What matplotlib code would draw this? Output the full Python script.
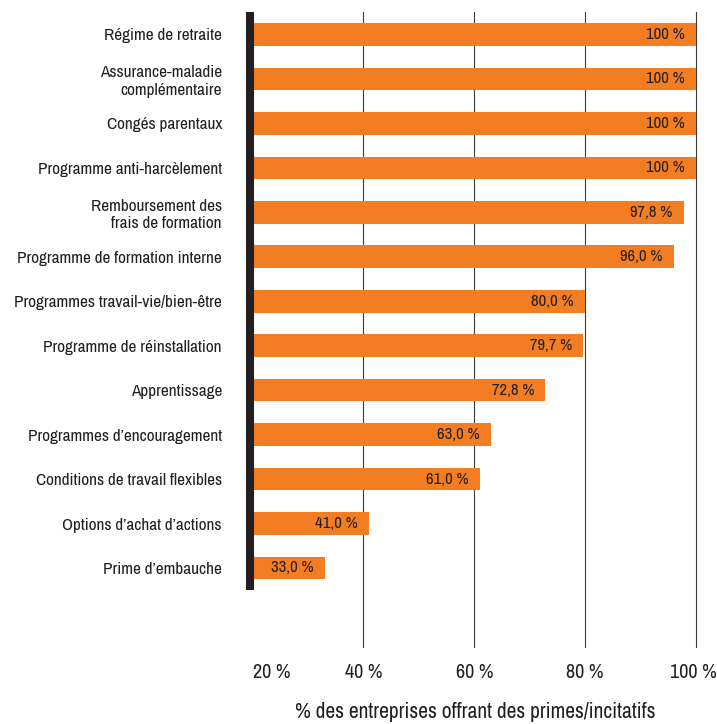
import matplotlib
matplotlib.use("Agg")
import matplotlib.pyplot as plt
import matplotlib.transforms as mtransforms

plt.rcParams['font.family'] = ['Archivo Narrow', 'DejaVu Sans']

categories = [
    "Régime de retraite",
    "Assurance-maladie\ncomplémentaire",
    "Congés parentaux",
    "Programme anti-harcèlement",
    "Remboursement des\nfrais de formation",
    "Programme de formation interne",
    "Programmes travail-vie/bien-être",
    "Programme de réinstallation",
    "Apprentissage",
    "Programmes d’encouragement",
    "Conditions de travail flexibles",
    "Options d’achat d’actions",
    "Prime d’embauche",
]
values = [100, 100, 100, 100, 97.8, 96.0, 80.0, 79.7, 72.8, 63.0, 61.0, 41.0, 33.0]
x_ticks = [20, 40, 60, 80, 100]
x_label = "% des entreprises offrant des primes/incitatifs"

ORANGE = "#F37D22"
INK = "#231F20"
BASE = 20

W, H = 717, 724
fig = plt.figure(figsize=(W / 100, H / 100), dpi=100)
left_px, right_px, top_px, bottom_px = 252.5, 697.7, 12, 648
ax = fig.add_axes([left_px / W, 1 - bottom_px / H,
                   (right_px - left_px) / W, (bottom_px - top_px) / H])

pos = list(range(len(categories)))
ax.barh(pos, [v - BASE for v in values], left=BASE, height=0.51,
        color=ORANGE, zorder=2)

for p, v in zip(pos, values):
    txt = "100 %" if v == 100 else f"{v:.1f}".replace(".", ",") + " %"
    ax.annotate(txt, xy=(v, p), xytext=(-8, 0), textcoords="offset points",
                ha="right", va="center", fontsize=12, color=INK, zorder=3)

ax.set_xlim(BASE, 100.3)
ax.set_ylim(13.8, -0.506)

# thick baseline bar on the left, sitting just left of the bar starts
shift = mtransforms.ScaledTranslation(-2.5 / 100, 0, fig.dpi_scale_trans)
ax.plot([BASE, BASE], [-0.506, 12.5], color=INK, lw=5.8,
        solid_capstyle="butt", clip_on=False, zorder=4,
        transform=ax.transData + shift)

ax.set_xticks(x_ticks)
ax.set_xticklabels([f"{t} %" for t in x_ticks])
ax.xaxis.grid(True, color="#3a3a3a", lw=0.8, zorder=1)
ax.get_xgridlines()[0].set_visible(False)
ax.set_axisbelow(True)
ax.tick_params(axis="x", length=0, pad=11, labelsize=14.5, labelcolor=INK)
# shift the first tick label to the right of the baseline
first = ax.get_xticklabels()[0]
first.set_transform(first.get_transform() +
                    mtransforms.ScaledTranslation(19 / 100, 0, fig.dpi_scale_trans))
last = ax.get_xticklabels()[-1]
last.set_transform(last.get_transform() +
                   mtransforms.ScaledTranslation(-3 / 100, 0, fig.dpi_scale_trans))

ax.set_yticks(pos)
ax.set_yticklabels(categories, ha="right", multialignment="right")
ax.tick_params(axis="y", length=0, pad=22, labelsize=12.4, labelcolor=INK)

for s in ax.spines.values():
    s.set_visible(False)

ax.set_xlabel(x_label, fontsize=15.5, color=INK, labelpad=14)

fig.savefig("out.png", dpi=100)
